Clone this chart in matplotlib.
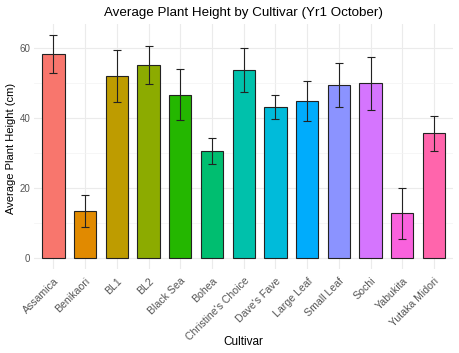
import matplotlib
matplotlib.use("Agg")
import matplotlib.pyplot as plt
import matplotlib.transforms as mtrans
import numpy as np

cultivars = ["Assamica", "Benikaori", "BL1", "BL2", "Black Sea", "Bohea",
             "Christine's Choice", "Dave's Fave", "Large Leaf", "Small Leaf",
             "Sochi", "Yabukita", "Yutaka Midori"]
heights = [58.2, 13.4, 52.0, 55.2, 46.6, 30.5, 53.7, 43.2, 44.9, 49.4, 49.9, 12.7, 35.6]
errors = [5.4, 4.6, 7.4, 5.4, 7.3, 3.7, 6.3, 3.5, 5.8, 6.3, 7.5, 7.2, 5.1]
colors = ["#F8766D", "#E18A00", "#BE9C00", "#8CAB00", "#24B700", "#00BE70",
          "#00C1AB", "#00BBDA", "#00ACFC", "#8B93FF", "#D575FE", "#F962DD", "#FF65AC"]
yticks = [0, 20, 40, 60]

plt.rcParams['font.family'] = ['Liberation Sans', 'DejaVu Sans']

W, H = 459, 353
fig = plt.figure(figsize=(W / 100, H / 100), dpi=100)
ax = fig.add_axes([0.075, 0.238, 0.912, 0.693])

x = np.arange(len(cultivars))
ax.bar(x, heights, width=0.7, color=colors, edgecolor="#222222", linewidth=0.8, zorder=3)
ax.errorbar(x, heights, yerr=errors, fmt="none", ecolor="#222222", elinewidth=0.8,
            capsize=3, capthick=0.8, zorder=4)

ax.set_xlim(-0.6, len(cultivars) - 0.4)
top = max(h + e for h, e in zip(heights, errors))
ax.set_ylim(-0.05 * top, top * 1.05)
ax.set_yticks(yticks)
ax.set_yticks([10, 30, 50], minor=True)
ax.set_xticks(x)
ax.set_xticklabels(cultivars, rotation=45, ha="right", va="top", rotation_mode="anchor",
                   fontsize=7.6, color="#555555")
offset = mtrans.ScaledTranslation(5 / 100, 0, fig.dpi_scale_trans)
for lab in ax.get_xticklabels():
    lab.set_transform(lab.get_transform() + offset)
ax.tick_params(axis="y", labelsize=7, labelcolor="#555555", length=0, pad=3)
ax.tick_params(axis="y", which="minor", length=0)
ax.tick_params(axis="x", length=0, pad=5)

ax.grid(True, which="major", color="#EBEBEB", linewidth=0.8, zorder=0)
ax.grid(True, which="minor", axis="y", color="#F3F3F3", linewidth=0.5, zorder=0)
for s in ax.spines.values():
    s.set_visible(False)

cx = 0.075 + 0.912 / 2
fig.text(cx, 1 - 342 / H, "Cultivar", fontsize=8.5, ha="center", va="center")
fig.text(11 / W, 1 - 148 / H, "Average Plant Height (cm)", fontsize=8,
         ha="center", va="center", rotation=90)
fig.text(cx, 1 - 13 / H, "Average Plant Height by Cultivar (Yr1 October)",
         fontsize=9.6, ha="center", va="center")

fig.savefig("out.png", dpi=100)
